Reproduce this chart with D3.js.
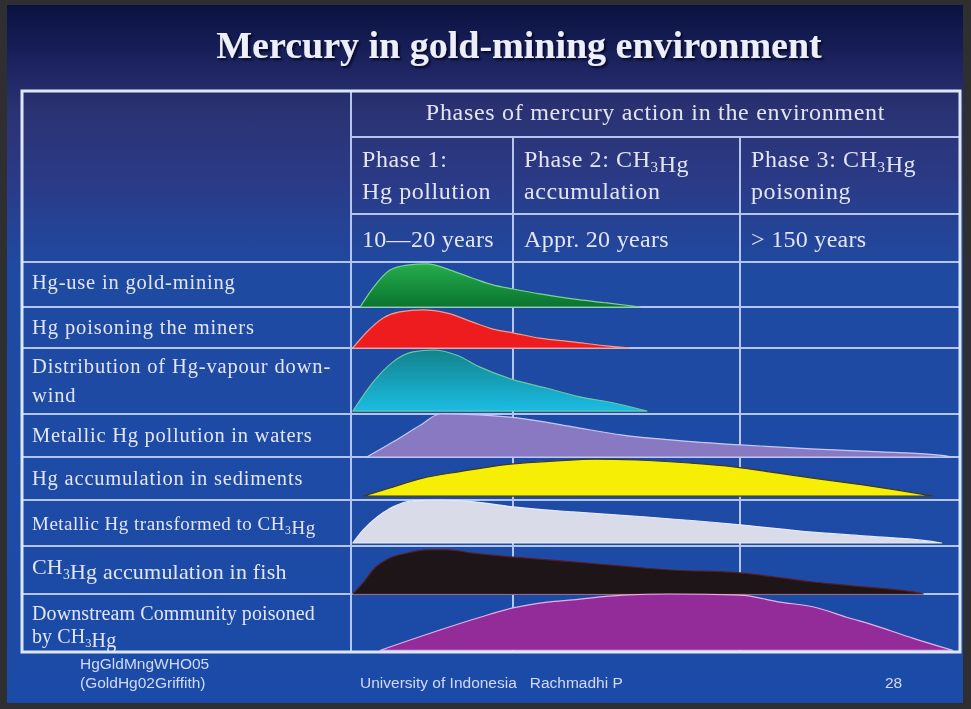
<!DOCTYPE html>
<html>
<head>
<meta charset="utf-8">
<script src="https://cdn.jsdelivr.net/npm/d3@7"></script>
<style>
  html, body { margin: 0; padding: 0; background: #2f2f31; }
  svg { display: block; }
</style>
</head>
<body>
<svg id="chart" width="971" height="709"></svg>
<script>
// ---------- texts ----------
const title = "Mercury in gold-mining environment";
const phaseHeader = "Phases of mercury action in the environment";
const phaseNames = [
  ["Phase 1:", "Hg pollution"],
  ["Phase 2: CH{3}Hg", "accumulation"],
  ["Phase 3: CH{3}Hg", "poisoning"]
];
const phaseDurations = ["10\u201420 years", "Appr. 20 years", "> 150 years"];
const processLabels = [
  ["Hg-use in gold-mining"],
  ["Hg poisoning the miners"],
  ["Distribution of Hg-vapour down-", "wind"],
  ["Metallic Hg pollution in waters"],
  ["Hg accumulation in sediments"],
  ["Metallic Hg transformed to CH{3}Hg"],
  ["CH{3}Hg accumulation in fish"],
  ["Downstream Community poisoned", "by CH{3}Hg"]
];
const footerSource = ["HgGldMngWHO05", "(GoldHg02Griffith)"];
const footerCredit = "University of Indonesia   Rachmadhi P";
const pageNumber = "28";

// ---------- intensity profiles: [relative time 0-100, relative intensity 0-1] ----------
const hgUse = [[1.5,0],[3.6,0.42],[6.4,0.82],[9.2,0.93],[12.5,0.96],[16.3,0.82],[20.0,0.64],[23.3,0.49],[26.6,0.40],[31.0,0.29],[36.4,0.18],[42.0,0.09],[47.5,0]];
const minersPoisoning = [[0.3,0],[2.6,0.39],[5.3,0.73],[8.0,0.88],[11.8,0.93],[15.8,0.85],[20.0,0.63],[23.3,0.46],[26.6,0.37],[31.0,0.24],[36.4,0.15],[42.0,0.05],[45.8,0]];
const vapourDownwind = [[0.3,0.045],[3.6,0.48],[6.9,0.79],[10.2,0.94],[13.5,0.97],[17.4,0.89],[21.2,0.71],[26.6,0.52],[32.2,0.39],[37.6,0.26],[43.0,0.17],[48.6,0.045]];
const watersPollution = [[2.6,0],[7.0,0.36],[11.5,0.75],[14.6,1.0],[21.0,0.98],[27.3,0.91],[36.4,0.70],[44.6,0.51],[52.4,0.40],[64.0,0.28],[75.5,0.19],[87.0,0.12],[97.0,0.04],[99.0,0]];
const sedimentAccumulation = [[2.0,0.09],[6.4,0.28],[11.8,0.51],[17.4,0.65],[22.8,0.77],[26.6,0.84],[33.8,0.91],[40.0,0.95],[47.0,0.93],[55.5,0.86],[62.9,0.77],[69.9,0.63],[75.8,0.51],[84.1,0.35],[89.7,0.23],[95.6,0.09]];
const methylation = [[0.3,0.065],[2.0,0.35],[4.3,0.63],[6.9,0.85],[10.2,0.98],[14.6,1.0],[20.2,0.96],[26.6,0.85],[36.4,0.74],[48.6,0.63],[63.9,0.46],[75.8,0.30],[84.1,0.22],[94.6,0.11],[97.0,0.065]];
const fishAccumulation = [[0.3,0],[2.0,0.23],[3.6,0.50],[6.4,0.75],[9.2,0.85],[12.5,0.92],[15.8,0.92],[20.0,0.85],[26.6,0.77],[36.4,0.67],[44.6,0.58],[52.4,0.50],[63.9,0.44],[75.8,0.25],[84.1,0.15],[92.4,0.04],[94.0,0]];
const communityPoisoning = [[4.8,0.03],[14.6,0.38],[21.2,0.60],[26.6,0.76],[32.2,0.86],[36.4,0.90],[44.6,0.98],[52.4,1.0],[63.9,0.98],[70.4,0.86],[75.8,0.78],[81.4,0.60],[86.8,0.43],[92.2,0.24],[98.8,0.03]];
const profiles = [hgUse, minersPoisoning, vapourDownwind, watersPollution, sedimentAccumulation, methylation, fishAccumulation, communityPoisoning];
const profileBases = [0, 0, 0.045, 0, 0.09, 0.065, 0, 0.03];

// ---------- layout ----------
const W = 971, H = 709;
const table = { left: 22, right: 960, top: 91, labelCol: 351, phaseCols: [351, 513, 740, 960] };
const headerLines = [137, 214, 262];
const rowLines = [262, 307, 348, 414, 457, 500, 546, 594, 652];
const labelBaselines = [[289], [334], [373, 402], [442], [485], [530], [574], [620, 643]];
const labelSizes = [20.5, 20.5, 20.5, 20.5, 20.5, 19, 22, 20];
const labelSpacing = [0.8, 0.9, 0.85, 0.75, 0.8, 0.5, 0.2, 0.1];

const styles = [
  { fill: "url(#gGreen)", stroke: "#7fd08f" },
  { fill: "#ee1c1f", stroke: "#f59a8a" },
  { fill: "url(#gTeal)", stroke: "#6cc8a0" },
  { fill: "#8879c2", stroke: "#c8c8f2" },
  { fill: "#f6ef05", stroke: "#3c3a28" },
  { fill: "#d9dbe8", stroke: "#e8eaf4" },
  { fill: "#1d1517", stroke: "#5a1c1c" },
  { fill: "#932c98", stroke: "#e4b2e6" }
];

const svg = d3.select("#chart");
const defs = svg.append("defs");

function vGrad(id, stops) {
  const g = defs.append("linearGradient").attr("id", id)
    .attr("x1", 0).attr("y1", 0).attr("x2", 0).attr("y2", 1);
  stops.forEach(([o, c]) => g.append("stop").attr("offset", o).attr("stop-color", c));
}
vGrad("gSlide", [[0, "#0a1240"], [0.08, "#1b225e"], [0.15, "#2a3272"], [0.25, "#2b3a86"], [0.38, "#1f4aa2"], [1, "#1b4ba8"]]);
vGrad("gGreen", [[0, "#25ad4c"], [1, "#0a7430"]]);
vGrad("gTeal", [[0, "#12838a"], [1, "#1bbce4"]]);

const shadow = defs.append("filter").attr("id", "titleShadow")
  .attr("x", "-5%").attr("y", "-20%").attr("width", "110%").attr("height", "150%");
shadow.append("feDropShadow").attr("dx", 2).attr("dy", 2).attr("stdDeviation", 1.2)
  .attr("flood-color", "#000018").attr("flood-opacity", 0.75);
const soft = defs.append("filter").attr("id", "soft");
soft.append("feGaussianBlur").attr("stdDeviation", 0.45);

// slide frame and background
svg.append("rect").attr("width", W).attr("height", H).attr("fill", "#2f2f31");
svg.append("rect").attr("x", 7).attr("y", 5).attr("width", 956).attr("height", 698).attr("fill", "url(#gSlide)");

// time scale across the three phase columns
const x = d3.scaleLinear().domain([0, 100]).range([table.phaseCols[0], table.phaseCols[3]]);

// grid lines
const gridColor = "#b4c6ee";
const grid = svg.append("g").attr("stroke", gridColor).attr("stroke-width", 2);
grid.selectAll("line.h").data(headerLines.slice(0, 2)).join("line")
  .attr("x1", table.labelCol).attr("x2", table.right).attr("y1", d => d).attr("y2", d => d);
grid.selectAll("line.r").data(rowLines).join("line")
  .attr("x1", table.left).attr("x2", table.right).attr("y1", d => d).attr("y2", d => d);
grid.append("line").attr("x1", table.labelCol).attr("x2", table.labelCol)
  .attr("y1", table.top).attr("y2", rowLines[rowLines.length - 1]);
grid.selectAll("line.p").data(table.phaseCols.slice(1, 3)).join("line")
  .attr("x1", d => d).attr("x2", d => d).attr("y1", headerLines[0]).attr("y2", rowLines[rowLines.length - 1]);

// intensity areas, one per process row
const shapes = svg.append("g");
profiles.forEach((pts, i) => {
  const y = d3.scaleLinear().domain([0, 1]).range([rowLines[i + 1], rowLines[i]]);
  const area = d3.area()
    .x(d => x(d[0]))
    .y0(y(profileBases[i]))
    .y1(d => y(d[1]))
    .curve(d3.curveMonotoneX);
  shapes.append("path")
    .attr("d", area(pts))
    .attr("fill", styles[i].fill)
    .attr("stroke", styles[i].stroke)
    .attr("stroke-width", 1.2)
    .attr("stroke-linejoin", "round");
});

// outer border
svg.append("rect")
  .attr("x", table.left).attr("y", table.top)
  .attr("width", table.right - table.left).attr("height", rowLines[rowLines.length - 1] - table.top)
  .attr("fill", "none").attr("stroke", "#dde7fa").attr("stroke-width", 3);

// rich text: "{3}" marks a subscript
function richText(sel, str, size) {
  const parts = str.split(/(\{\d\})/);
  parts.forEach(p => {
    if (!p) return;
    const m = p.match(/^\{(\d)\}$/);
    if (m) {
      sel.append("tspan").attr("font-size", size * 0.62).attr("dy", size * 0.22).text(m[1]);
      sel.append("tspan").attr("dy", -size * 0.22).text("");
    } else {
      sel.append("tspan").text(p);
    }
  });
}

const serif = "'Liberation Serif', 'Times New Roman', serif";
const textColor = "#e3e5f4";
const txt = svg.append("g").attr("fill", textColor).attr("font-family", serif).attr("filter", "url(#soft)");

// title
svg.append("text")
  .attr("x", 519).attr("y", 58)
  .attr("text-anchor", "middle")
  .attr("font-family", serif).attr("font-weight", "bold").attr("font-size", 38)
  .attr("fill", "#eceef9").attr("filter", "url(#titleShadow)")
  .text(title);

// header
txt.append("text")
  .attr("x", (table.labelCol + table.right) / 2).attr("y", 120)
  .attr("text-anchor", "middle").attr("font-size", 24).attr("letter-spacing", 0.7)
  .text(phaseHeader);

phaseNames.forEach((lines, i) => {
  lines.forEach((line, j) => {
    const t = txt.append("text")
      .attr("x", table.phaseCols[i] + 11).attr("y", 167 + j * 32)
      .attr("font-size", 24).attr("letter-spacing", 0.6);
    richText(t, line, 24);
  });
});
phaseDurations.forEach((d, i) => {
  txt.append("text")
    .attr("x", table.phaseCols[i] + 11).attr("y", 247)
    .attr("font-size", 24).attr("letter-spacing", 0.3)
    .text(d);
});

// row labels
processLabels.forEach((lines, i) => {
  lines.forEach((line, j) => {
    const t = txt.append("text")
      .attr("x", table.left + 10).attr("y", labelBaselines[i][j])
      .attr("font-size", labelSizes[i]).attr("letter-spacing", labelSpacing[i]);
    richText(t, line, labelSizes[i]);
  });
});

// footer
const sans = "'Liberation Sans', Arial, sans-serif";
const foot = svg.append("g").attr("fill", "#d2d9f4").attr("font-family", sans)
  .attr("font-size", 15.5).attr("filter", "url(#soft)");
footerSource.forEach((s, i) => {
  foot.append("text").attr("x", 80).attr("y", 669 + i * 19).text(s);
});
foot.append("text").attr("x", 360).attr("y", 688).attr("xml:space", "preserve").text(footerCredit);
foot.append("text").attr("x", 885).attr("y", 688).text(pageNumber);
</script>
</body>
</html>
